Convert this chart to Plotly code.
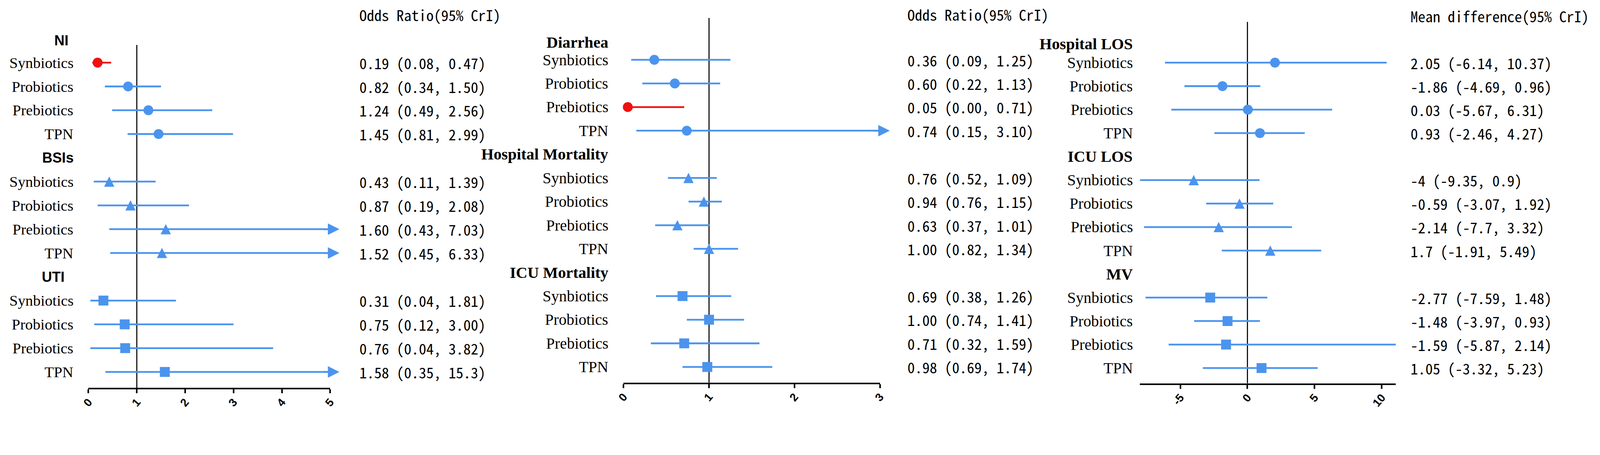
import plotly.graph_objects as go

# ---------------- data ----------------
treatments = ["Synbiotics", "Probiotics", "Prebiotics", "TPN"]

# left panel: infections, odds ratio (95% CrI)
inf_outcomes = ["NI", "BSIs", "UTI"]
inf_est = [0.19, 0.82, 1.24, 1.45, 0.43, 0.87, 1.60, 1.52, 0.31, 0.75, 0.76, 1.58]
inf_lo = [0.08, 0.34, 0.49, 0.81, 0.11, 0.19, 0.43, 0.45, 0.04, 0.12, 0.04, 0.35]
inf_hi = [0.47, 1.50, 2.56, 2.99, 1.39, 2.08, 7.03, 6.33, 1.81, 3.00, 3.82, 15.3]
inf_text = ["0.19 (0.08, 0.47)", "0.82 (0.34, 1.50)", "1.24 (0.49, 2.56)", "1.45 (0.81, 2.99)",
            "0.43 (0.11, 1.39)", "0.87 (0.19, 2.08)", "1.60 (0.43, 7.03)", "1.52 (0.45, 6.33)",
            "0.31 (0.04, 1.81)", "0.75 (0.12, 3.00)", "0.76 (0.04, 3.82)", "1.58 (0.35, 15.3)"]
inf_ticks = [0, 1, 2, 3, 4, 5]

# middle panel: diarrhea and mortality, odds ratio (95% CrI)
mort_outcomes = ["Diarrhea", "Hospital Mortality", "ICU Mortality"]
mort_est = [0.36, 0.60, 0.05, 0.74, 0.76, 0.94, 0.63, 1.00, 0.69, 1.00, 0.71, 0.98]
mort_lo = [0.09, 0.22, 0.00, 0.15, 0.52, 0.76, 0.37, 0.82, 0.38, 0.74, 0.32, 0.69]
mort_hi = [1.25, 1.13, 0.71, 3.10, 1.09, 1.15, 1.01, 1.34, 1.26, 1.41, 1.59, 1.74]
mort_text = ["0.36 (0.09, 1.25)", "0.60 (0.22, 1.13)", "0.05 (0.00, 0.71)", "0.74 (0.15, 3.10)",
             "0.76 (0.52, 1.09)", "0.94 (0.76, 1.15)", "0.63 (0.37, 1.01)", "1.00 (0.82, 1.34)",
             "0.69 (0.38, 1.26)", "1.00 (0.74, 1.41)", "0.71 (0.32, 1.59)", "0.98 (0.69, 1.74)"]
mort_ticks = [0, 1, 2, 3]

# right panel: length of stay / ventilation, mean difference (95% CrI)
los_outcomes = ["Hospital LOS", "ICU LOS", "MV"]
los_est = [2.05, -1.86, 0.03, 0.93, -4, -0.59, -2.14, 1.7, -2.77, -1.48, -1.59, 1.05]
los_lo = [-6.14, -4.69, -5.67, -2.46, -9.35, -3.07, -7.7, -1.91, -7.59, -3.97, -5.87, -3.32]
# MV / Prebiotics is drawn to the axis end in the source although its label says 2.14
los_hi = [10.37, 0.96, 6.31, 4.27, 0.9, 1.92, 3.32, 5.49, 1.48, 0.93, 11.1, 5.23]
los_text = ["2.05 (-6.14, 10.37)", "-1.86 (-4.69, 0.96)", "0.03 (-5.67, 6.31)", "0.93 (-2.46, 4.27)",
            "-4 (-9.35, 0.9)", "-0.59 (-3.07, 1.92)", "-2.14 (-7.7, 3.32)", "1.7 (-1.91, 5.49)",
            "-2.77 (-7.59, 1.48)", "-1.48 (-3.97, 0.93)", "-1.59 (-5.87, 2.14)", "1.05 (-3.32, 5.23)"]
los_ticks = [-5, 0, 5, 10]

# ---------------- styling / geometry ----------------
# geometry below is in pixels of the 4550x1164 reference; the page renders about 10%
# larger than css px and a little offset, so absolute sizes are scaled by S and
# positions are pulled back by (DX, DY)
S = 0.906
DX, DY = 25, 10
W0, H0 = 4550, 1164
W, H = round(W0 * S), round(H0 * S)
BLUE = "#4B94EE"
RED = "#F01010"
SERIF = "Liberation Serif, Times New Roman, serif"
SANS = "Liberation Sans, Arial, sans-serif"
MONO = "Noto Sans Mono CJK SC, DejaVu Sans Mono, monospace"

SYMBOLS = ["circle", "arrow-up", "square"]
SIZES = [28, 29, 28]


def px_x(x):
    return (x - DX) / W0


def px_y(y):
    return 1 - (y - DY) / H0


panels = [
    dict(outcomes=inf_outcomes, est=inf_est, lo=inf_lo, hi=inf_hi, text=inf_text, ticks=inf_ticks,
         title="Odds Ratio(95% CrI)", null=1, xrange=[0, 5], arrows=True,
         x_px=(247, 936), axis_px=1096, top_px=128, rows_px=(178, 1051),
         label_right=206, label_size=43, value_left=1017, title_y=42, top_nudge=4,
         head_font=dict(family=SANS, size=40 * S, color="black"), head_center=[170, 160, 146]),
    dict(outcomes=mort_outcomes, est=mort_est, lo=mort_lo, hi=mort_hi, text=mort_text, ticks=mort_ticks,
         title="Odds Ratio(95% CrI)", null=1, xrange=[0, 3], arrows=True,
         x_px=(1772, 2503), axis_px=1081, top_px=52, rows_px=(170, 1037),
         label_right=1730, label_size=44, value_left=2579, title_y=41, top_nudge=18,
         head_font=dict(family=SERIF, size=45 * S, color="black"), head_center=None),
    dict(outcomes=los_outcomes, est=los_est, lo=los_lo, hi=los_hi, text=los_text, ticks=los_ticks,
         title="Mean difference(95% CrI)", null=0, xrange=[-8, 11.05], arrows=False,
         x_px=(3244, 3973), axis_px=1083, top_px=63, rows_px=(178, 1040),
         label_right=3226, label_size=44, value_left=4013, title_y=46, top_nudge=14,
         head_font=dict(family=SERIF, size=45 * S, color="black"), head_center=None),
]

fig = go.Figure()
annotations = []
shapes = []
layout_axes = {}

for k, p in enumerate(panels, start=1):
    xname = "x" if k == 1 else f"x{k}"
    yname = "y" if k == 1 else f"y{k}"
    r0, r1 = p["rows_px"]
    step = (r1 - r0) / 13.0  # reference px between rows

    def row_y(r, shift=0.0):
        # paper position of a row, for the texts (annotations off the axis range get hidden)
        return px_y(r0 + (r - 1) * step + shift)

    y_bottom = 1 + (p["axis_px"] - r0) / step
    y_top = 1 + (p["top_px"] - r0) / step
    span = p["xrange"][1] - p["xrange"][0]

    for g, outcome in enumerate(p["outcomes"]):
        head_row = 5 * g
        hy = row_y(head_row, p["top_nudge"] if g == 0 else 0)
        # outcome heading
        if p["head_center"] is not None:
            annotations.append(dict(x=px_x(p["head_center"][g]), xref="paper", xanchor="center",
                                    y=hy, yref="paper", yanchor="middle",
                                    text=f"<b>{outcome}</b>", showarrow=False, font=p["head_font"]))
        else:
            annotations.append(dict(x=px_x(p["label_right"]), xref="paper", xanchor="right",
                                    y=hy, yref="paper", yanchor="middle",
                                    text=f"<b>{outcome}</b>", showarrow=False, font=p["head_font"]))

        rows, ests, cols = [], [], []
        for j, trt in enumerate(treatments):
            i = 4 * g + j
            row = head_row + 1 + j
            lo, hi, est = p["lo"][i], p["hi"][i], p["est"][i]
            sig = hi < p["null"] or lo > p["null"]
            col = RED if sig else BLUE

            fig.add_trace(go.Scatter(x=[lo, hi], y=[row, row], mode="lines",
                                     line=dict(color=col, width=5 * S), hoverinfo="skip",
                                     xaxis=xname, yaxis=yname))
            if p["arrows"] and hi > p["xrange"][1]:
                # arrow head past the axis end for intervals running off the scale
                annotations.append(dict(x=p["xrange"][1] + 0.038 * span, y=row,
                                        ax=p["xrange"][1] - 0.03 * span, ay=row,
                                        xref=xname, yref=yname, axref=xname, ayref=yname,
                                        text="", showarrow=True, arrowhead=2, arrowsize=1.3,
                                        arrowwidth=5 * S, arrowcolor=col, standoff=0))
            rows.append(row)
            ests.append(est)
            cols.append(col)

            annotations.append(dict(x=px_x(p["label_right"]), xref="paper", xanchor="right",
                                    y=row_y(row), yref="paper", yanchor="middle", text=trt,
                                    showarrow=False,
                                    font=dict(family=SERIF, size=p["label_size"] * S, color="black")))
            annotations.append(dict(x=px_x(p["value_left"]), xref="paper", xanchor="left",
                                    y=row_y(row), yref="paper", yanchor="middle", text=p["text"][i],
                                    showarrow=False, font=dict(family=MONO, size=42 * S, color="black")))

        size = SIZES[g]
        # arrow-up has its tip on the point, lift it so the triangle sits centred on the line
        ymark = [r - (size / 2) / step for r in rows] if SYMBOLS[g] == "arrow-up" else rows
        fig.add_trace(go.Scatter(x=ests, y=ymark, mode="markers",
                                 marker=dict(symbol=SYMBOLS[g], size=size * S, color=cols,
                                             line=dict(width=0)),
                                 cliponaxis=False, hoverinfo="skip",
                                 xaxis=xname, yaxis=yname))

    annotations.append(dict(x=px_x(p["value_left"]), xref="paper", xanchor="left",
                            y=px_y(p["title_y"]), yref="paper", yanchor="middle",
                            text=p["title"], showarrow=False,
                            font=dict(family=MONO, size=42 * S, color="black")))

    shapes.append(dict(type="line", xref=xname, yref=f"{yname} domain",
                       x0=p["null"], x1=p["null"], y0=0, y1=1,
                       line=dict(color="black", width=3 * S), layer="below"))

    layout_axes["xaxis" if k == 1 else f"xaxis{k}"] = dict(
        domain=[px_x(p["x_px"][0]), px_x(p["x_px"][1])], anchor=yname, range=p["xrange"],
        showgrid=False, zeroline=False, showline=True, linecolor="black", linewidth=4.5 * S,
        ticks="outside", ticklen=11 * S, tickwidth=4 * S, tickcolor="black",
        tickvals=p["ticks"], ticktext=[str(t) for t in p["ticks"]], tickangle=-50,
        ticklabelstandoff=-6,
        tickfont=dict(family=SANS, size=32 * S, color="black", weight="bold"), fixedrange=True)
    layout_axes["yaxis" if k == 1 else f"yaxis{k}"] = dict(
        domain=[px_y(p["axis_px"]), px_y(p["top_px"])], anchor=xname,
        range=[y_bottom, y_top], visible=False, fixedrange=True)

fig.update_layout(width=W, height=H, margin=dict(l=0, r=0, t=0, b=0),
                  paper_bgcolor="white", plot_bgcolor="white", showlegend=False,
                  annotations=annotations, shapes=shapes, **layout_axes)

fig.write_html("out.html")
